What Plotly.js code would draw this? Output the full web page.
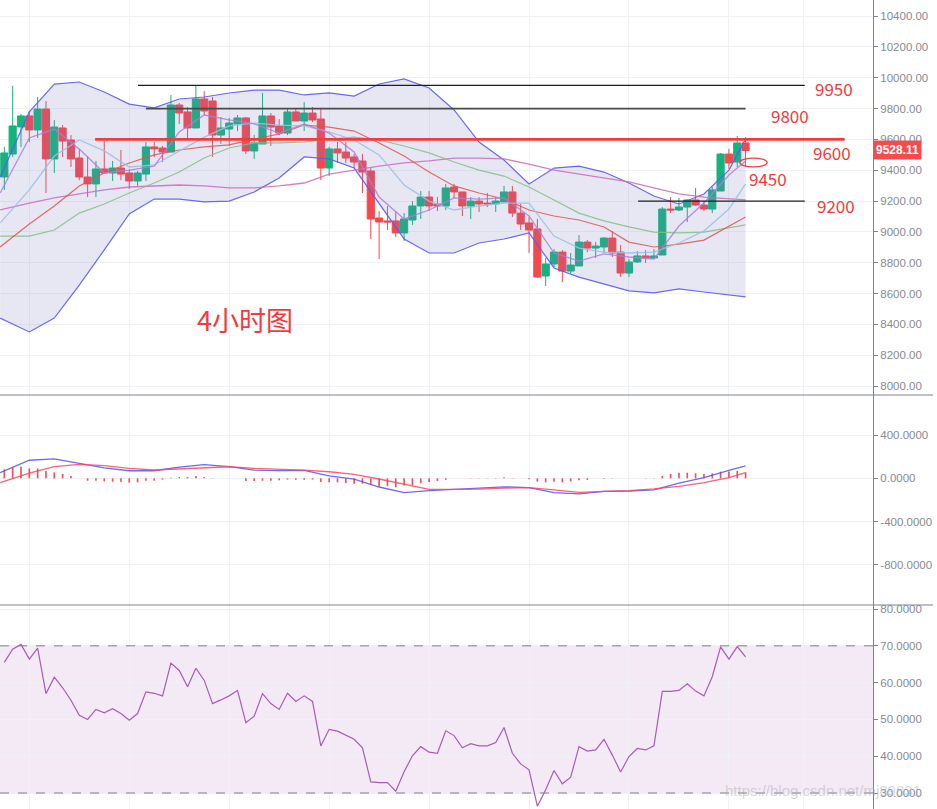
<!DOCTYPE html>
<html><head><meta charset="utf-8">
<script src="https://cdn.plot.ly/plotly-3.0.1.min.js"></script>
<style>html,body{margin:0;padding:0;background:#fff;}#chart{width:937px;height:809px;}</style>
</head><body><div id="chart"></div>
<script>
// ---- candles (4h) ----
const candleIdx = [0,1,2,3,4,5,6,7,8,9,10,11,12,13,14,15,16,17,18,19,20,21,22,23,24,25,26,27,28,29,30,31,32,33,34,35,36,37,38,39,40,41,42,43,44,45,46,47,48,49,50,51,52,53,54,55,56,57,58,59,60,61,62,63,64,65,66,67,68,69,70,71,72,73,74,75,76,77,78,79,80,81,82,83,84,85,86,87,88,89];
const openP = [9356,9505,9680,9752,9661,9797,9473,9674,9596,9479,9356,9311,9408,9382,9414,9382,9330,9375,9551,9544,9518,9823,9778,9674,9862,9849,9628,9667,9700,9739,9525,9570,9752,9687,9641,9778,9719,9771,9732,9414,9538,9518,9486,9460,9395,9090,9071,9071,8993,9077,9168,9226,9181,9168,9291,9259,9168,9200,9187,9181,9194,9259,9122,9058,9019,8714,8792,8869,8746,8779,8934,8895,8902,8960,8869,8733,8805,8844,8831,8850,9148,9142,9161,9207,9174,9148,9265,9505,9453,9577];
const highP = [9551,9946,9765,9784,9875,9849,9726,9693,9628,9538,9492,9460,9589,9460,9531,9408,9395,9583,9583,9557,9888,9836,9810,9946,9914,9875,9745,9739,9758,9745,9628,9901,9771,9732,9797,9804,9842,9810,9804,9551,9583,9583,9505,9505,9414,9135,9168,9135,9122,9200,9265,9265,9226,9311,9311,9259,9226,9226,9252,9226,9298,9298,9181,9097,9084,8831,8889,8882,8863,8980,8947,8934,8967,9006,8915,8824,8876,8882,8889,9161,9226,9220,9213,9285,9200,9291,9512,9538,9622,9615];
const lowP = [9272,9486,9551,9583,9609,9252,9382,9486,9421,9336,9226,9226,9382,9330,9336,9278,9298,9330,9486,9453,9518,9700,9602,9674,9758,9486,9570,9557,9654,9505,9473,9570,9557,9628,9628,9719,9654,9713,9336,9362,9447,9447,9414,9252,8954,8824,9012,8967,8941,9045,9084,9135,9135,9142,9220,9103,9084,9129,9161,9129,9194,9097,9012,8863,8701,8649,8772,8675,8733,8779,8869,8831,8863,8837,8707,8707,8798,8798,8824,8850,9122,9135,9064,9168,9135,9122,9265,9408,9421,9421];
const closeP = [9512,9687,9752,9661,9797,9473,9680,9589,9473,9356,9311,9408,9382,9414,9375,9330,9382,9551,9538,9518,9823,9771,9674,9862,9784,9628,9674,9706,9739,9525,9577,9752,9680,9641,9778,9719,9771,9726,9414,9538,9512,9479,9453,9388,9084,9064,9064,8993,9084,9168,9226,9168,9168,9285,9259,9168,9200,9181,9181,9200,9259,9122,9051,9012,8707,8792,8869,8746,8785,8934,8895,8908,8960,8863,8733,8805,8844,8831,8844,9148,9142,9161,9207,9174,9148,9272,9505,9447,9577,9528.11];

// ---- indicator lines, read at every 3rd candle ----
const lineIdx = [-0.5,3,6,9,12,15,18,21,24,27,30,33,36,39,42,45,48,51,54,57,60,63,66,69,72,75,78,81,84,87,89];
const bbUpper = [9356,9778,9959,9972,9907,9829,9804,9862,9875,9901,9920,9920,9888,9901,9881,9959,9992,9933,9791,9583,9466,9311,9414,9427,9388,9317,9233,9181,9246,9401,9602];
const bbLower = [8441,8351,8441,8655,8883,9116,9213,9213,9194,9200,9259,9349,9486,9473,9414,9187,8954,8863,8863,8928,8954,8993,8766,8707,8662,8617,8604,8630,8610,8591,8578];
const ma5 = [9252,9609,9667,9538,9382,9401,9427,9648,9758,9726,9700,9641,9700,9641,9518,9226,9084,9142,9220,9213,9220,9103,8863,8811,8857,8837,8824,9038,9187,9369,9460];
const ma10 = [9058,9272,9492,9596,9525,9421,9434,9525,9615,9687,9706,9693,9687,9648,9596,9499,9304,9200,9142,9168,9187,9187,8973,8895,8869,8863,8869,8928,9006,9148,9311];
const ma20 = [8902,9051,9168,9298,9382,9447,9499,9531,9551,9564,9602,9635,9693,9680,9654,9577,9492,9388,9298,9252,9213,9142,9103,9077,9032,8934,8902,8921,8947,9038,9097];
const ma60 = [8973,8973,9012,9122,9181,9252,9317,9388,9479,9544,9577,9577,9583,9602,9615,9596,9557,9512,9453,9401,9362,9291,9207,9122,9071,9032,8999,8993,8999,9025,9045];
const ma120 = [9142,9187,9220,9246,9272,9291,9298,9304,9298,9285,9285,9298,9317,9375,9401,9427,9447,9460,9479,9479,9473,9440,9401,9375,9349,9324,9285,9246,9226,9213,9207];

// ---- MACD ----
const macdDif = [52,167,179,140,97,70,70,103,126,108,76,72,73,22,-7,-80,-132,-114,-102,-89,-78,-86,-131,-143,-120,-117,-106,-45,6,74,115];
const macdDea = [-40,48,109,129,118,92,77,88,99,107,92,85,75,61,36,-6,-54,-101,-102,-100,-90,-86,-107,-130,-121,-113,-98,-74,-40,6,52];
const macdHist = [83,99,108,92,92,68,55,40,22,0,-22,-22,-28,-31,-31,-40,-37,-22,-22,-12,6,12,12,22,12,3,0,0,0,-25,-25,-22,-22,-18,-12,-12,-12,-12,-34,-37,-37,-43,-49,-49,-62,-77,-71,-83,-65,-65,-46,-34,-25,-15,0,0,3,3,3,3,9,3,0,-9,-31,-37,-31,-37,-28,-18,-15,0,-3,-3,0,0,0,3,3,22,40,52,52,46,40,46,62,62,68,55];

// ---- RSI ----
const rsi = [65.5,69.1,70.4,66.4,69.4,57.0,61.5,58.6,55.2,51.1,50.0,52.7,51.8,52.9,51.6,49.8,51.6,57.5,57.1,56.4,65.3,63.3,58.9,63.9,60.6,54.3,55.3,56.4,57.9,49.1,50.9,57.0,54.3,52.7,57.1,54.9,56.4,54.9,42.8,47.3,46.8,45.7,44.6,42.3,33.0,32.8,32.8,30.5,35.8,40.1,42.6,41.1,40.8,46.9,45.6,42.3,43.4,42.8,42.8,43.7,47.8,40.8,37.9,36.3,26.4,30.9,36.1,32.5,34.3,42.6,41.4,41.7,44.6,40.3,35.7,39.9,42.1,41.7,42.8,57.6,57.6,57.9,59.7,57.7,56.4,61.6,69.7,66.4,69.8,67.0];

// ---- levels & labels ----
const levels = [9950, 9800, 9600, 9200];
const levelLabels = ['9950','9800','9600','9450','9200'];
const priceTicks = [8000,8200,8400,8600,8800,9000,9200,9400,9600,9800,10000,10200,10400];
const macdTicks = [-800,-400,0,400];
const macdTickText = ['-800.0000','-400.0000','0.0000','400.0000'];
const rsiTicks = [30,40,50,60,70,80];
const timeGrid = [3,15,27,39,51,63,75,87,96];
const lastPrice = 9528.11;
const chartLabel = '4小时图';
const watermark = 'https://blog.csdn.net/mj89831';

const UP = '#16b27e', DOWN = '#f5484d';
const AX = '#7f8592';

function ln(y, color, w, extra) {
  return Object.assign({x: lineIdx, y: y, type: 'scatter', mode: 'lines', hoverinfo: 'skip',
    line: {color: color, width: w || 1.2}, xaxis: 'x', yaxis: 'y'}, extra || {});
}

const traces = [
  ln(bbUpper, 'rgba(90,90,245,0.9)', 1.2),
  ln(bbLower, 'rgba(90,90,245,0.9)', 1.2, {fill: 'tonexty', fillcolor: 'rgba(120,120,195,0.18)'}),
  ln(ma120, 'rgba(205,105,190,0.85)', 1.3),
  ln(ma60, 'rgba(130,190,130,0.85)', 1.2),
  ln(ma20, 'rgba(228,80,80,0.85)', 1.2),
  ln(ma10, 'rgba(160,190,228,0.9)', 1.3),
  ln(ma5, 'rgba(175,125,215,0.85)', 1.3),
  {type: 'candlestick', x: candleIdx, open: openP, high: highP, low: lowP, close: closeP,
   xaxis: 'x', yaxis: 'y', hoverinfo: 'skip', whiskerwidth: 0,
   increasing: {line: {color: UP, width: 1}, fillcolor: UP},
   decreasing: {line: {color: DOWN, width: 1}, fillcolor: DOWN}},
  {type: 'bar', x: candleIdx, y: macdHist, xaxis: 'x', yaxis: 'y2', width: 0.2,
   marker: {color: '#f44f55', line: {width: 0}}, hoverinfo: 'skip'},
  {type: 'scatter', mode: 'lines', x: lineIdx, y: macdDif, xaxis: 'x', yaxis: 'y2',
   line: {color: 'rgba(80,80,250,0.85)', width: 1.3}, hoverinfo: 'skip'},
  {type: 'scatter', mode: 'lines', x: lineIdx, y: macdDea, xaxis: 'x', yaxis: 'y2',
   line: {color: 'rgba(250,70,90,0.85)', width: 1.3}, hoverinfo: 'skip'},
  {type: 'scatter', mode: 'lines', x: candleIdx, y: rsi, xaxis: 'x', yaxis: 'y3',
   line: {color: '#a95bb8', width: 1.2}, hoverinfo: 'skip'}
];

const yBase = {side: 'right', showgrid: true, gridcolor: '#f0f1f5', zeroline: false,
  showline: true, linecolor: AX, linewidth: 1, ticks: 'outside', ticklen: 4, tickcolor: AX,
  tickfont: {family: 'Liberation Sans, Arial, sans-serif', size: 11.5, color: '#878a93'},
  anchor: 'x', fixedrange: true};

const lvlColors = ['#1e1e1e', '#4a4a4a', '#f23b3b', '#1e1e1e'];
const lvlWidths = [1.3, 1.8, 2.6, 1.3];
const lvlX0 = [16.05, 17.0, 10.9, 76.1];
const lvlX1 = [96.1, 89.0, 100.9, 96.1];
const shapes = [];
// RSI band
shapes.push({type: 'rect', xref: 'paper', yref: 'y3', x0: 0, x1: 1, y0: rsiTicks[0], y1: rsiTicks[4],
  fillcolor: 'rgba(150,60,170,0.11)', line: {width: 0}, layer: 'below'});
[rsiTicks[4], rsiTicks[0]].forEach(v => shapes.push({type: 'line', xref: 'paper', yref: 'y3', x0: 0, x1: 1,
  y0: v, y1: v, line: {color: '#7d7f8a', width: 1, dash: 'dash'}}));
levels.forEach((v, i) => shapes.push({type: 'line', xref: 'x', yref: 'y', x0: lvlX0[i], x1: lvlX1[i],
  y0: v, y1: v, line: {color: lvlColors[i], width: lvlWidths[i]}}));
// ellipse near 9450
shapes.push({type: 'circle', xref: 'x', yref: 'y', x0: 88.3, x1: 91.6, y0: 9421, y1: 9479,
  line: {color: '#f04040', width: 1.2}});
// panel separators
[1 - 395/809, 1 - 605/809].forEach(p => shapes.push({type: 'line', xref: 'paper', yref: 'paper',
  x0: 0, x1: 933/873, y0: p, y1: p, line: {color: AX, width: 1.2}}));

const redFont = {family: 'Noto Sans CJK SC, sans-serif', size: 17, color: '#f23b3b'};
const lblPos = [[99.6, 9927], [94.3, 9752], [99.4, 9518], [91.7, 9349], [99.8, 9174]];
const annotations = levelLabels.map((t, i) => ({text: t, x: lblPos[i][0], y: lblPos[i][1],
  xref: 'x', yref: 'y', showarrow: false, font: redFont}));
annotations.push({text: chartLabel, x: 28.9, y: 8434, xref: 'x', yref: 'y', showarrow: false,
  font: {family: 'Noto Sans CJK SC, sans-serif', size: 27, color: '#f23b3b'}});
annotations.push({text: '<b>' + lastPrice.toFixed(2) + '</b>', x: 1, y: lastPrice, xref: 'paper', yref: 'y',
  xanchor: 'left', yanchor: 'middle', showarrow: false, bgcolor: '#f24c4c', borderpad: 2,
  font: {family: 'Liberation Sans, Arial, sans-serif', size: 12, color: '#ffffff'}});
annotations.push({text: '(', x: 172/873, y: 1 - 3/809, xref: 'paper', yref: 'paper', yanchor: 'bottom',
  showarrow: false, font: redFont});
annotations.push({text: ')', x: 222/873, y: 1 - 3/809, xref: 'paper', yref: 'paper', yanchor: 'bottom',
  showarrow: false, font: redFont});
annotations.push({text: watermark, x: 723/873, y: 1 - 790/809, xref: 'paper', yref: 'paper',
  xanchor: 'left', yanchor: 'middle', showarrow: false,
  font: {family: 'Liberation Sans, Arial, sans-serif', size: 15, color: 'rgba(175,175,180,0.5)'}});

const layout = {
  width: 937, height: 809, margin: {l: 0, r: 64, t: 0, b: 0},
  paper_bgcolor: '#ffffff', plot_bgcolor: '#ffffff', showlegend: false,
  boxgap: 0.14, boxgroupgap: 0, hovermode: false,
  xaxis: {range: [-0.52, 104.3], tickvals: timeGrid, showticklabels: false, ticks: '',
    showgrid: true, gridcolor: '#f0f1f5', zeroline: false, anchor: 'y3',
    rangeslider: {visible: false}, fixedrange: true},
  yaxis: Object.assign({}, yBase, {domain: [1 - 395/809, 1], range: [7942, 10504],
    tickvals: priceTicks, tickformat: '.2f'}),
  yaxis2: Object.assign({}, yBase, {domain: [1 - 605/809, 1 - 395/809], range: [-1169.5, 769.5],
    tickvals: macdTicks, ticktext: macdTickText}),
  yaxis3: Object.assign({}, yBase, {domain: [0, 1 - 605/809], range: [25.65, 81.1],
    tickvals: rsiTicks, tickformat: '.4f'}),
  shapes: shapes, annotations: annotations
};

Plotly.newPlot('chart', traces, layout, {displayModeBar: false, staticPlot: true});
</script>
</body></html>
